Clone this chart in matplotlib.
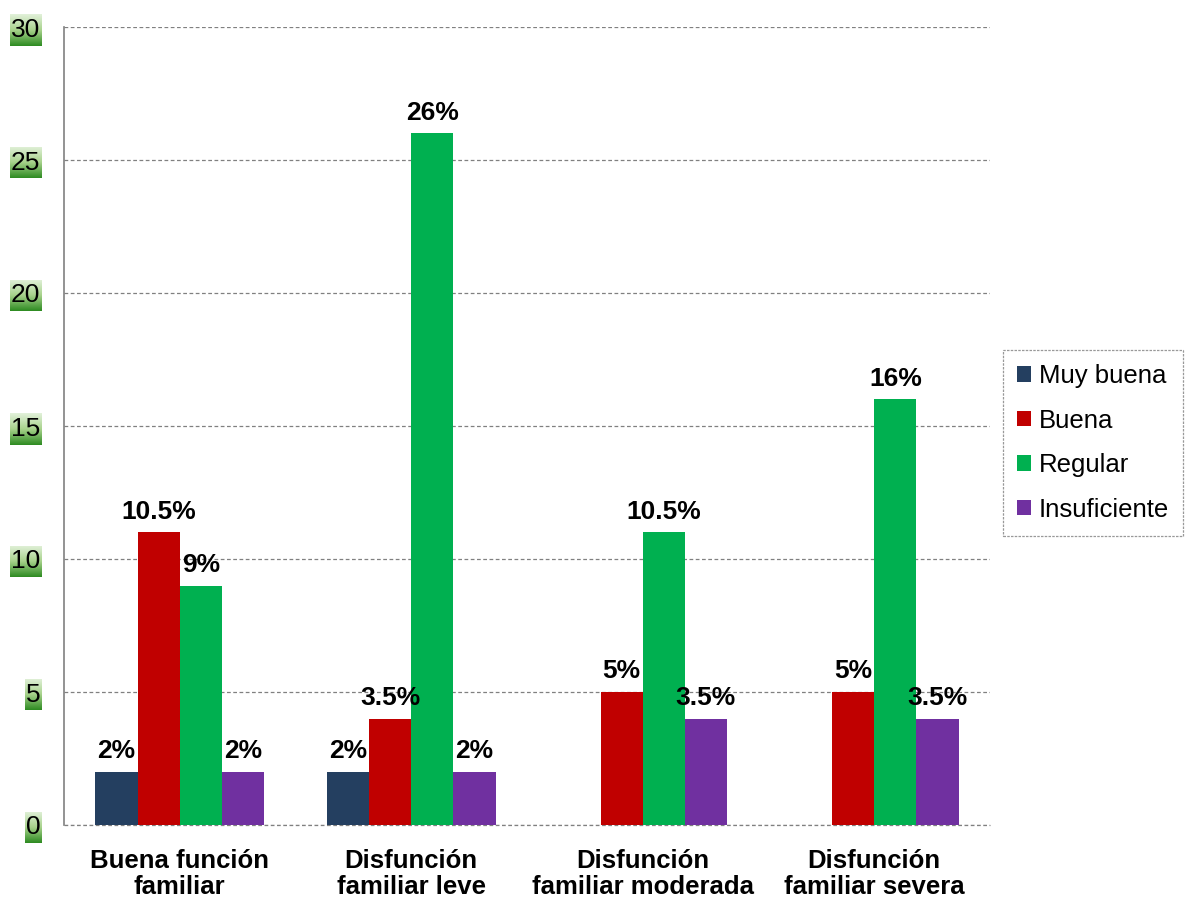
import matplotlib
matplotlib.use("Agg")
import matplotlib.pyplot as plt
import numpy as np
from matplotlib.colors import LinearSegmentedColormap

plt.rcParams['font.family'] = ['Liberation Sans', 'DejaVu Sans']

categories = ["Buena función\nfamiliar", "Disfunción\nfamiliar leve",
              "Disfunción\nfamiliar moderada", "Disfunción\nfamiliar severa"]
series_names = ["Muy buena", "Buena", "Regular", "Insuficiente"]
muy_buena = [2, 2, None, None]
buena = [11, 4, 5, 5]
regular = [9, 26, 11, 16]
insuficiente = [2, 2, 4, 4]
muy_buena_lbl = ["2%", "2%", None, None]
buena_lbl = ["10.5%", "3.5%", "5%", "5%"]
regular_lbl = ["9%", "26%", "10.5%", "16%"]
insuficiente_lbl = ["2%", "2%", "3.5%", "3.5%"]
colors = ["#243F60", "#C00000", "#00B050", "#7030A0"]
yticks = [0, 5, 10, 15, 20, 25, 30]

fig = plt.figure(figsize=(11.86, 8.98), dpi=100)
ax = fig.add_axes([64/1186, 1-825/898, (990-64)/1186, (825-27)/898])
ax.set_zorder(2)
ax.patch.set_alpha(0)

x = np.arange(len(categories))
w = 0.182
all_vals = [muy_buena, buena, regular, insuficiente]
all_lbls = [muy_buena_lbl, buena_lbl, regular_lbl, insuficiente_lbl]
for i, (vals, lbls, c, name) in enumerate(zip(all_vals, all_lbls, colors, series_names)):
    xs = x + (i - 1.5) * w
    h = [v if v is not None else 0 for v in vals]
    ax.bar(xs, h, width=w, color=c, label=name, zorder=3)
    for xi, v, l in zip(xs, vals, lbls):
        if v is not None and l:
            ax.text(xi, v + 0.32, l, ha='center', va='bottom', fontsize=19,
                    fontweight='bold', zorder=4)

ax.set_xlim(-0.5, 3.5)
ax.set_ylim(0, 30)
ax.set_yticks(yticks)
ax.set_yticklabels([str(t) for t in yticks], fontsize=19)
ax.set_xticks(x)
ax.set_xticklabels(categories, fontsize=18.5, fontweight='bold', linespacing=1.1)
ax.tick_params(axis='y', length=0, pad=17)
ax.tick_params(axis='x', length=0, pad=17)
ax.yaxis.grid(True, linestyle=(0, (3, 2)), color='#808080', linewidth=0.9, zorder=0)
for s in ['top', 'right', 'bottom']:
    ax.spines[s].set_visible(False)
ax.spines['left'].set_color('#808080')
ax.spines['left'].set_linewidth(1.2)
ax.axhline(0, color='#808080', linestyle=(0, (3, 2)), linewidth=0.9, zorder=1, clip_on=False)

leg = ax.legend(loc='upper left', bbox_to_anchor=(1003/1186, 1-350/898),
                bbox_transform=fig.transFigure, fontsize=18.5, frameon=True,
                fancybox=False, handlelength=0.55, handleheight=0.55,
                handletextpad=0.3, labelspacing=0.8, borderpad=0.55,
                borderaxespad=0)
leg.get_frame().set_edgecolor('#808080')
leg.get_frame().set_linestyle((0, (2, 1)))
leg.get_frame().set_linewidth(0.9)

# green gradient behind y tick labels
fig.canvas.draw()
renderer = fig.canvas.get_renderer()
cmap = LinearSegmentedColormap.from_list('g', ['#E2F1DA', '#A8D38C', '#2E8B22'])
grad = np.linspace(0, 1, 64).reshape(-1, 1)
W, H = fig.get_size_inches() * fig.dpi
for lab in ax.get_yticklabels():
    bb = lab.get_window_extent(renderer)
    cy = (bb.y0 + bb.y1) / 2
    gx = fig.add_axes([(bb.x0 - 1) / W, (cy - 16) / H, (bb.width + 2) / W, 32 / H])
    gx.set_zorder(0)
    gx.imshow(grad, aspect='auto', cmap=cmap, extent=[0, 1, 0, 1])
    gx.axis('off')

fig.savefig("out.png", dpi=100)
